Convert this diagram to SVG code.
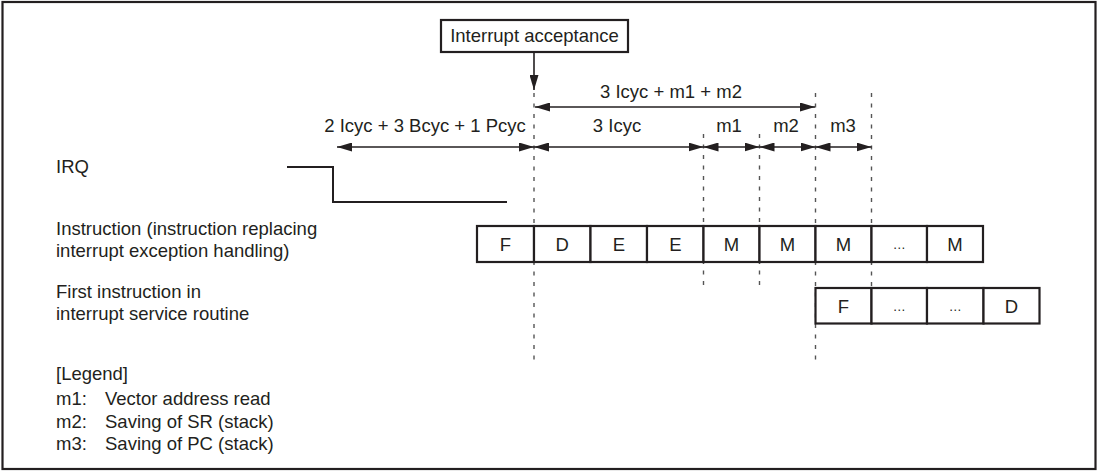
<svg xmlns="http://www.w3.org/2000/svg" width="1099" height="471" viewBox="0 0 1099 471">
<style>
text{font-family:"Liberation Sans",Arial,sans-serif;font-size:18.5px;fill:#231f20}
.c{text-anchor:middle}
.cell{fill:#fff;stroke:#231f20;stroke-width:2.2}
.dash{stroke:#555;stroke-width:1.4;stroke-dasharray:4 6.5;fill:none}
.arr{stroke:#231f20;stroke-width:1.6;fill:none;marker-start:url(#ah);marker-end:url(#ah)}
.dots{font-size:13px}
</style>
<defs>
<marker id="ah" markerUnits="userSpaceOnUse" markerWidth="15" markerHeight="9" refX="15" refY="4.5" orient="auto-start-reverse" viewBox="0 0 15 9">
<path d="M0,0 L15,4.5 L0,9 z" fill="#231f20"/>
</marker>
<marker id="ah1" markerUnits="userSpaceOnUse" markerWidth="9" markerHeight="15" refX="15" refY="4.5" orient="auto" viewBox="0 0 15 9">
<path d="M0,0 L15,4.5 L0,9 z" fill="#231f20"/>
</marker>
</defs>
<rect x="2.5" y="2" width="1093" height="467" fill="#fff" stroke="#231f20" stroke-width="2.2"/>

<g id="labels">
<text x="56" y="173">IRQ</text>
<text x="56" y="235">Instruction (instruction replacing</text>
<text x="56" y="257">interrupt exception handling)</text>
<text x="56" y="298">First instruction in</text>
<text x="56" y="320">interrupt service routine</text>
</g>

<g id="legend">
<text x="56" y="380">[Legend]</text>
<text x="56" y="405">m1:</text><text x="105" y="405">Vector address read</text>
<text x="56" y="428">m2:</text><text x="105" y="428">Saving of SR (stack)</text>
<text x="56" y="450">m3:</text><text x="105" y="450">Saving of PC (stack)</text>
</g>

<g id="interrupt-acceptance">
<rect x="441" y="20" width="187" height="32" fill="#fff" stroke="#231f20" stroke-width="2.2"/>
<text class="c" x="534.5" y="42">Interrupt acceptance</text>
</g>

<g id="irq-signal">
<polyline points="287,167 333,167 333,202 507,202" fill="none" stroke="#231f20" stroke-width="2"/>
</g>

<g id="connectors">
<line x1="534" y1="52" x2="534" y2="90" stroke="#231f20" stroke-width="1.6" marker-end="url(#ah)"/>
<line class="dash" x1="534" y1="93" x2="534" y2="362"/>
<line class="dash" x1="703.5" y1="134" x2="703.5" y2="287"/>
<line class="dash" x1="759.5" y1="134" x2="759.5" y2="287"/>
<line class="dash" x1="815.5" y1="93" x2="815.5" y2="362"/>
<line class="dash" x1="871.5" y1="93" x2="871.5" y2="287"/>
<line class="arr" x1="535" y1="107" x2="815" y2="107"/>
<line class="arr" x1="337" y1="147" x2="534" y2="147"/>
<line class="arr" x1="534" y1="147" x2="703.5" y2="147"/>
<line class="arr" x1="703.5" y1="147" x2="759.5" y2="147"/>
<line class="arr" x1="759.5" y1="147" x2="815.5" y2="147"/>
<line class="arr" x1="815.5" y1="147" x2="871.5" y2="147"/>
</g>

<g id="timing-labels">
<text class="c" x="671" y="98">3 Icyc + m1 + m2</text>
<text class="c" x="425" y="132">2 Icyc + 3 Bcyc + 1 Pcyc</text>
<text class="c" x="617" y="132">3 Icyc</text>
<text class="c" x="729" y="132">m1</text>
<text class="c" x="786" y="132">m2</text>
<text class="c" x="843" y="132">m3</text>
</g>

<g id="instruction-row">
<rect class="cell" x="477" y="226" width="57" height="36"/><text class="c" x="505.5" y="251">F</text>
<rect class="cell" x="534" y="226" width="56.5" height="36"/><text class="c" x="562.3" y="251">D</text>
<rect class="cell" x="590.5" y="226" width="56.5" height="36"/><text class="c" x="618.8" y="251">E</text>
<rect class="cell" x="647" y="226" width="56.5" height="36"/><text class="c" x="675.3" y="251">E</text>
<rect class="cell" x="703.5" y="226" width="56" height="36"/><text class="c" x="731.5" y="251">M</text>
<rect class="cell" x="759.5" y="226" width="56" height="36"/><text class="c" x="787.5" y="251">M</text>
<rect class="cell" x="815.5" y="226" width="56" height="36"/><text class="c" x="843.5" y="251">M</text>
<rect class="cell" x="871.5" y="226" width="55.5" height="36"/><text class="c dots" x="899.3" y="249">…</text>
<rect class="cell" x="927" y="226" width="56" height="36"/><text class="c" x="955" y="251">M</text>
</g>

<g id="isr-row">
<rect class="cell" x="815.5" y="288" width="56" height="35.5"/><text class="c" x="843.5" y="312.5">F</text>
<rect class="cell" x="871.5" y="288" width="55.5" height="35.5"/><text class="c dots" x="899.3" y="310.5">…</text>
<rect class="cell" x="927" y="288" width="56.5" height="35.5"/><text class="c dots" x="955.3" y="310.5">…</text>
<rect class="cell" x="983.5" y="288" width="56" height="35.5"/><text class="c" x="1011.5" y="312.5">D</text>
</g>
</svg>
